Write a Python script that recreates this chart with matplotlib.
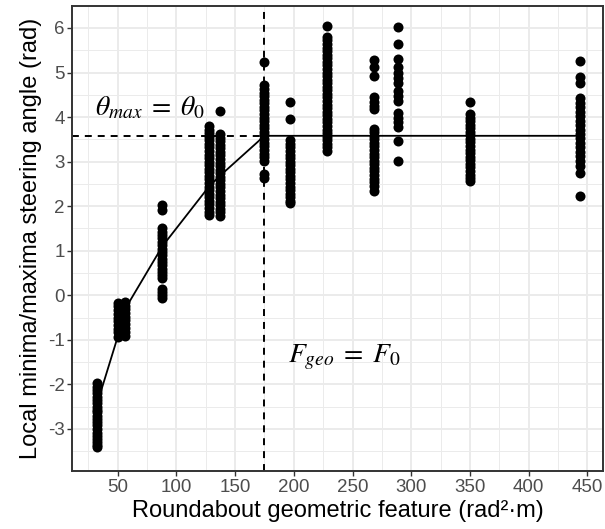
import matplotlib
matplotlib.use("Agg")
import matplotlib.pyplot as plt
from matplotlib.ticker import MultipleLocator

plt.rcParams["font.family"] = ["Liberation Sans", "DejaVu Sans"]
plt.rcParams["mathtext.fontset"] = "stix"
plt.rcParams["lines.scale_dashes"] = False
plt.rcParams["axes.unicode_minus"] = False

# observed local minima / maxima per roundabout (x = geometric feature)
col_x = [32, 50, 56, 88, 128, 137, 175, 197, 228, 268, 289, 350, 444]
col_y = [
    [-1.97, -2.05, -2.12, -2.2, -2.28, -2.35, -2.42, -2.5, -2.57, -2.63, -2.7,
     -2.78, -2.85, -2.92, -3.0, -3.08, -3.15, -3.22, -3.3, -3.36, -3.4],
    [-0.17, -0.25, -0.33, -0.41, -0.5, -0.58, -0.66, -0.75, -0.83, -0.93],
    [-0.15, -0.23, -0.31, -0.4, -0.48, -0.56, -0.65, -0.73, -0.82, -0.92],
    [2.03, 1.92, 1.5, 1.42, 1.35, 1.28, 1.2, 1.12, 1.05, 0.98, 0.9, 0.82,
     0.75, 0.68, 0.6, 0.52, 0.45, 0.38, 0.14, 0.07, 0.0, -0.07],
    [3.8, 3.72, 3.64, 3.56, 3.48, 3.4, 3.32, 3.24, 3.16, 3.08, 3.0, 2.92,
     2.84, 2.76, 2.68, 2.6, 2.52, 2.44, 2.36, 2.28, 2.2, 2.12, 2.04, 1.96,
     1.88, 1.81],
    [4.13, 3.62, 3.54, 3.46, 3.38, 3.3, 3.22, 3.14, 3.06, 2.98, 2.9, 2.82,
     2.74, 2.66, 2.58, 2.5, 2.42, 2.34, 2.26, 2.18, 2.1, 2.02, 1.94, 1.86,
     1.77],
    [5.23, 4.71, 4.63, 4.55, 4.47, 4.39, 4.31, 4.23, 4.15, 4.07, 3.99, 3.91,
     3.83, 3.75, 3.67, 3.59, 3.5, 3.42, 3.34, 3.26, 3.18, 3.1, 3.02, 2.72,
     2.64],
    [4.35, 3.95, 3.48, 3.4, 3.32, 3.24, 3.16, 3.08, 3.0, 2.92, 2.84, 2.76,
     2.68, 2.6, 2.52, 2.44, 2.36, 2.28, 2.2, 2.12, 2.07],
    [6.04, 5.8, 5.72, 5.64, 5.56, 5.48, 5.4, 5.32, 5.24, 5.16, 5.08, 5.0,
     4.92, 4.84, 4.76, 4.68, 4.6, 4.52, 4.44, 4.36, 4.28, 4.2, 4.12, 4.04,
     3.96, 3.88, 3.8, 3.72, 3.64, 3.56, 3.48, 3.4, 3.32, 3.24],
    [5.29, 5.12, 4.93, 4.44, 4.35, 4.26, 4.18, 3.74, 3.66, 3.58, 3.5, 3.42,
     3.34, 3.26, 3.18, 3.1, 3.02, 2.94, 2.86, 2.78, 2.7, 2.62, 2.54, 2.46,
     2.35],
    [6.02, 5.65, 5.31, 5.12, 5.0, 4.88, 4.76, 4.59, 4.48, 4.37, 4.1, 3.98,
     3.88, 3.77, 3.46, 3.01],
    [4.35, 4.07, 3.99, 3.91, 3.83, 3.75, 3.67, 3.59, 3.51, 3.43, 3.35, 3.27,
     3.19, 3.11, 3.03, 2.95, 2.87, 2.79, 2.71, 2.63, 2.56],
    [5.25, 4.9, 4.76, 4.42, 4.32, 4.22, 4.12, 4.02, 3.92, 3.82, 3.72, 3.62,
     3.52, 3.42, 3.32, 3.22, 3.12, 3.02, 2.9, 2.75, 2.24],
]

# fitted curve evaluated at each roundabout
fit_y = [-2.47, -0.93, -0.32, 1.1, 2.45, 2.68, 3.58, 3.58, 3.58, 3.58, 3.58,
         3.58, 3.58]

F0 = 175
theta0 = 3.58

fig = plt.figure(figsize=(6.05, 5.29), dpi=100)
ax = fig.add_axes([0.1195, 0.1091, 0.8767, 0.8801])

ax.plot(col_x, fit_y, color="black", lw=1.3, zorder=2)
for x, ys in zip(col_x, col_y):
    ax.scatter([x] * len(ys), ys, s=52, color="black", lw=0, zorder=3)

ax.axvline(F0, color="black", lw=1.4, dashes=(5.0, 4.3), zorder=2)
ax.plot([0, F0], [theta0, theta0], color="black", lw=1.4,
        dashes=(5.0, 4.3), zorder=2)

ax.text(30.7, 4.03, r"$\theta_{max}\;=\;\theta_0$", fontsize=20, ha="left",
        va="baseline")
ax.text(195.3, -1.5, r"$F_{geo}\;=\;F_0$", fontsize=20, ha="left",
        va="baseline")

ax.set_xlim(11.3, 463.1)
ax.set_ylim(-3.95, 6.5)
ax.xaxis.set_major_locator(MultipleLocator(50))
ax.xaxis.set_minor_locator(MultipleLocator(25))
ax.yaxis.set_major_locator(MultipleLocator(1))
ax.yaxis.set_minor_locator(MultipleLocator(0.5))
ax.set_xticks(range(50, 451, 50))

ax.grid(which="major", color="#EBEBEB", lw=1.4, zorder=0)
ax.grid(which="minor", color="#EBEBEB", lw=0.7, zorder=0)
ax.set_axisbelow(True)
ax.tick_params(which="minor", length=0)
ax.tick_params(which="major", length=3.5, width=1, color="#333333",
               labelcolor="#4D4D4D", labelsize=13.5, pad=2)
for s in ax.spines.values():
    s.set_color("#333333")
    s.set_linewidth(1.4)

ax.set_xlabel("Roundabout geometric feature (rad\u00b2\u00b7m)", fontsize=17,
              labelpad=3)
ax.set_ylabel("Local minima/maxima steering angle (rad)", fontsize=17,
              labelpad=4)

fig.savefig("out.png", dpi=100)
